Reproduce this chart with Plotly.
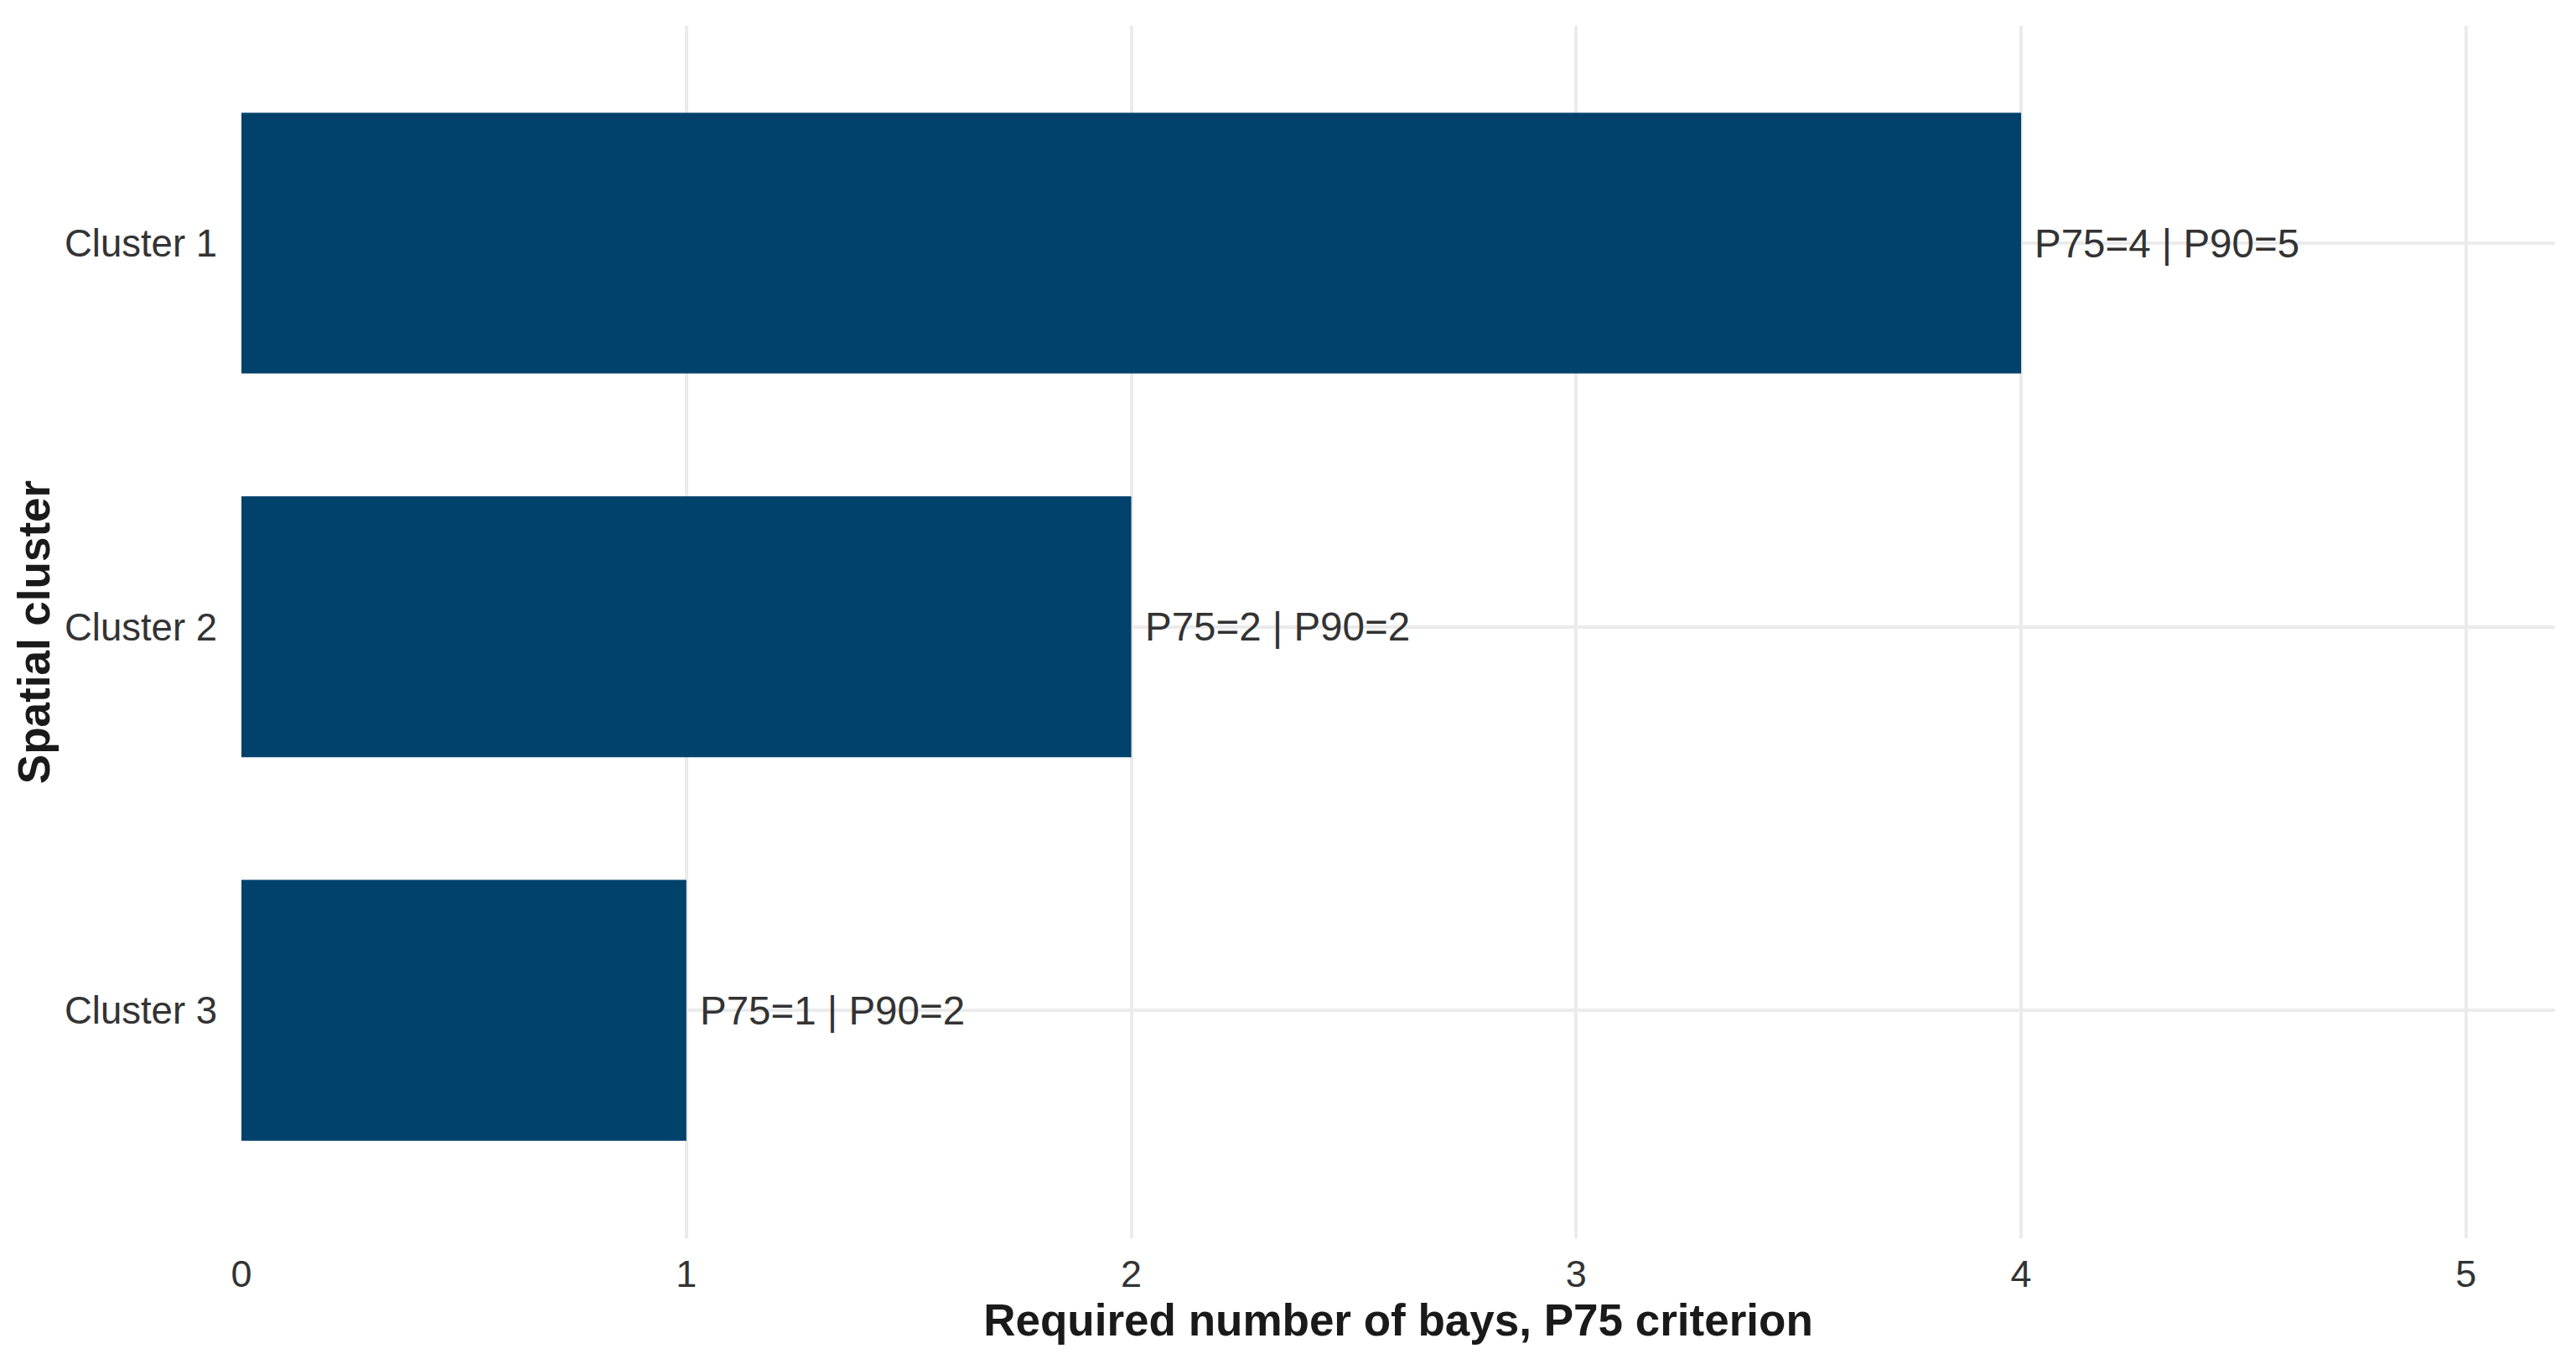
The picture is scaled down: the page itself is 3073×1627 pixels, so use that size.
import plotly.graph_objects as go

# Data
clusters = ["Cluster 1", "Cluster 2", "Cluster 3"]
p75_bays = [4, 2, 1]
p90_bays = [5, 2, 2]
x_ticks = [0, 1, 2, 3, 4, 5]

bar_color = "#01426D"
grid_color = "#EBEBEB"
text_color = "#333333"
title_color = "#1A1A1A"
font_family = "Liberation Sans, Arial, Helvetica, sans-serif"

labels = [f"P75={a} | P90={b}" for a, b in zip(p75_bays, p90_bays)]

fig = go.Figure()
fig.add_trace(go.Bar(
    x=p75_bays,
    y=clusters,
    orientation="h",
    width=0.68,
    marker=dict(color=bar_color, line=dict(width=0)),
    showlegend=False,
    hoverinfo="skip",
))

for c, v, t in zip(clusters, p75_bays, labels):
    fig.add_annotation(
        x=v, y=c, xref="x", yref="y",
        text=t, showarrow=False,
        xanchor="left", yanchor="middle", xshift=14,
        font=dict(family=font_family, size=47.5, color=text_color),
    )

fig.update_layout(
    width=3065,
    height=1619,
    margin=dict(l=280, r=25, t=23, b=150, autoexpand=False),
    paper_bgcolor="white",
    plot_bgcolor="white",
    font=dict(family=font_family, size=45, color=text_color),
)

fig.update_xaxes(
    range=[0, 5.2],
    tickmode="array",
    tickvals=x_ticks,
    ticktext=[str(v) for v in x_ticks],
    showgrid=True,
    gridcolor=grid_color,
    gridwidth=3.5,
    zeroline=False,
    showline=False,
    ticks="",
    ticklabelstandoff=12,
    tickfont=dict(family=font_family, size=45, color=text_color),
    title=dict(
        text="<b>Required number of bays, P75 criterion</b>",
        font=dict(family=font_family, size=53, color=title_color),
        standoff=8,
    ),
    automargin=False,
)

fig.update_yaxes(
    type="category",
    categoryorder="array",
    categoryarray=clusters,
    range=[2.594, -0.566],
    showgrid=True,
    gridcolor=grid_color,
    gridwidth=3.5,
    zeroline=False,
    showline=False,
    ticks="",
    ticklabelstandoff=28,
    tickfont=dict(family=font_family, size=45.5, color=text_color),
    title=dict(
        text="<b>Spatial cluster</b>",
        font=dict(family=font_family, size=53, color=title_color),
        standoff=0,
    ),
    automargin=False,
)

fig.write_html("out.html")
